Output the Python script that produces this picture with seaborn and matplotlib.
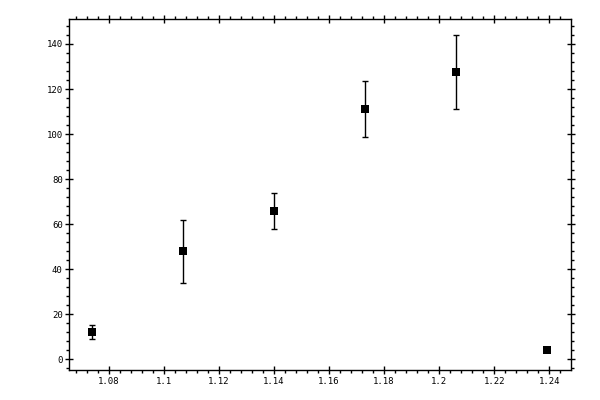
import matplotlib
matplotlib.use("Agg")
import matplotlib.pyplot as plt
from matplotlib.ticker import MultipleLocator
import seaborn as sns
import pandas as pd

# values
x_vals = [1.074, 1.107, 1.140, 1.173, 1.206, 1.239]
y_vals = [12.0, 48.0, 65.7, 111.0, 127.4, 4.0]
y_err  = [3.1, 14.0, 8.0, 12.4, 16.4, 0.0]

df = pd.DataFrame({'x': x_vals, 'y': y_vals, 'err': y_err})

sns.set_style('white')
plt.rcParams['font.family'] = ['DejaVu Sans Mono', 'DejaVu Sans']

fig = plt.figure(figsize=(6, 4), dpi=100)
ax = fig.add_axes([0.1158, 0.075, 0.8354, 0.8775])

ax.errorbar(df['x'], df['y'], yerr=df['err'], fmt='none',
            ecolor='black', elinewidth=1.0, capsize=2.5, capthick=1.0)
sns.scatterplot(data=df, x='x', y='y', marker='s', s=26, color='black',
                edgecolor='black', linewidth=0, ax=ax, zorder=3)

ax.set_xlim(1.06575, 1.24778)
ax.set_ylim(-4.75, 151.1)
ax.xaxis.set_minor_locator(MultipleLocator(0.004))
ax.yaxis.set_minor_locator(MultipleLocator(4))
ax.set_xticks([1.08, 1.1, 1.12, 1.14, 1.16, 1.18, 1.2, 1.22, 1.24])
ax.set_xticklabels(['1.08', '1.1', '1.12', '1.14', '1.16', '1.18', '1.2', '1.22', '1.24'])
ax.set_yticks([0, 20, 40, 60, 80, 100, 120, 140])
ax.set_yticklabels(['0', '20', '40', '60', '80', '100', '120', '140'])
ax.set_xlabel('')
ax.set_ylabel('')

for sp in ax.spines.values():
    sp.set_color('black')
    sp.set_linewidth(1.0)

ax.tick_params(which='major', direction='inout', length=5.8, width=1.0,
               color='black', top=True, right=True, labelsize=6.5, pad=2,
               labelcolor='black')
ax.tick_params(which='minor', direction='out', length=2.3, width=1.0,
               color='black', top=True, right=True)
ax.tick_params(axis='both', which='both', bottom=True, left=True)

fig.savefig('out.png', dpi=100)
